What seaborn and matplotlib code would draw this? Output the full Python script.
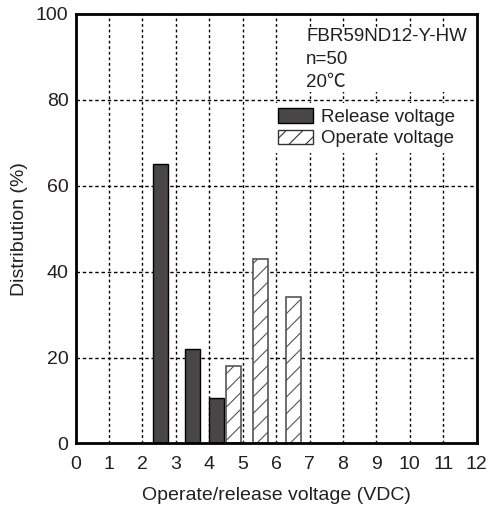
import numpy as np
import matplotlib
matplotlib.use("Agg")
import matplotlib.pyplot as plt
import seaborn as sns
from matplotlib.patches import Patch

# Valores
release_v = [2.55, 3.5, 4.23]
release_pct = [65, 22, 10.5]
operate_v = [4.73, 5.54, 6.51]
operate_pct = [18, 43, 34]
x_ticks = list(range(0, 13))
y_ticks = [0, 20, 40, 60, 80, 100]
info_lines = ["FBR59ND12-Y-HW", "n=50", "20\u2103"]

sns.set_style("white")
plt.rcParams["font.family"] = ["Liberation Sans", "Noto Sans CJK JP", "DejaVu Sans"]
plt.rcParams["hatch.linewidth"] = 0.8

bar_w = 0.45
dark = "#4a4546"
txt = "#231f20"

fig = plt.figure(figsize=(4.97, 5.08), dpi=100)
ax = fig.add_axes([0.152, 0.127, 0.807, 0.846])

# grade
for xv in x_ticks[1:-1]:
    ax.axvline(xv, color="black", lw=1, ls=(0, (2, 2)), zorder=0)
for yv in y_ticks[1:-1]:
    ax.axhline(yv, color="black", lw=1, ls=(0, (2.5, 2)), zorder=0)

# barras
sns.barplot(x=release_v, y=release_pct, native_scale=True, ax=ax,
            width=bar_w / np.min(np.diff(release_v)), color=dark,
            saturation=1, errorbar=None, edgecolor="black", linewidth=1,
            zorder=3)
sns.barplot(x=operate_v, y=operate_pct, native_scale=True, ax=ax,
            width=bar_w / np.min(np.diff(operate_v)), color="white",
            saturation=1, errorbar=None, edgecolor="#555555", linewidth=1.2,
            hatch="//", zorder=3)

ax.set_xlim(0, 12)
ax.set_ylim(0, 100)
ax.set_xticks(x_ticks)
ax.set_yticks(y_ticks)
ax.tick_params(length=0, labelsize=14, labelcolor=txt)
ax.tick_params(axis="x", pad=9)
ax.tick_params(axis="y", pad=5)
for s in ax.spines.values():
    s.set_linewidth(2)
    s.set_color("black")
    s.set_zorder(5)

ax.set_xlabel("Operate/release voltage (VDC)", fontsize=14, color=txt, labelpad=10)
ax.set_ylabel("Distribution (%)", fontsize=14, color=txt, labelpad=6)

# texto de informação
ax.text(0.575, 0.967, "\n".join(info_lines), transform=ax.transAxes,
        fontsize=13.5, color=txt, va="top", ha="left", linespacing=1.45,
        bbox=dict(facecolor="white", edgecolor="none", pad=1), zorder=4)

handles = [Patch(facecolor=dark, edgecolor="black", label="Release voltage"),
           Patch(facecolor="white", edgecolor="#333333", hatch="//",
                 label="Operate voltage")]
leg = ax.legend(handles=handles, loc="upper left", bbox_to_anchor=(0.49, 0.793),
                frameon=True, fontsize=13.5, handlelength=1.9, handleheight=0.8,
                handletextpad=0.4, labelspacing=0.2, borderaxespad=0,
                borderpad=0.3, fancybox=False)
leg.get_frame().set_edgecolor("none")
leg.get_frame().set_alpha(1)
leg.set_zorder(4)
for t in leg.get_texts():
    t.set_color(txt)

fig.savefig("out.png", dpi=100)
